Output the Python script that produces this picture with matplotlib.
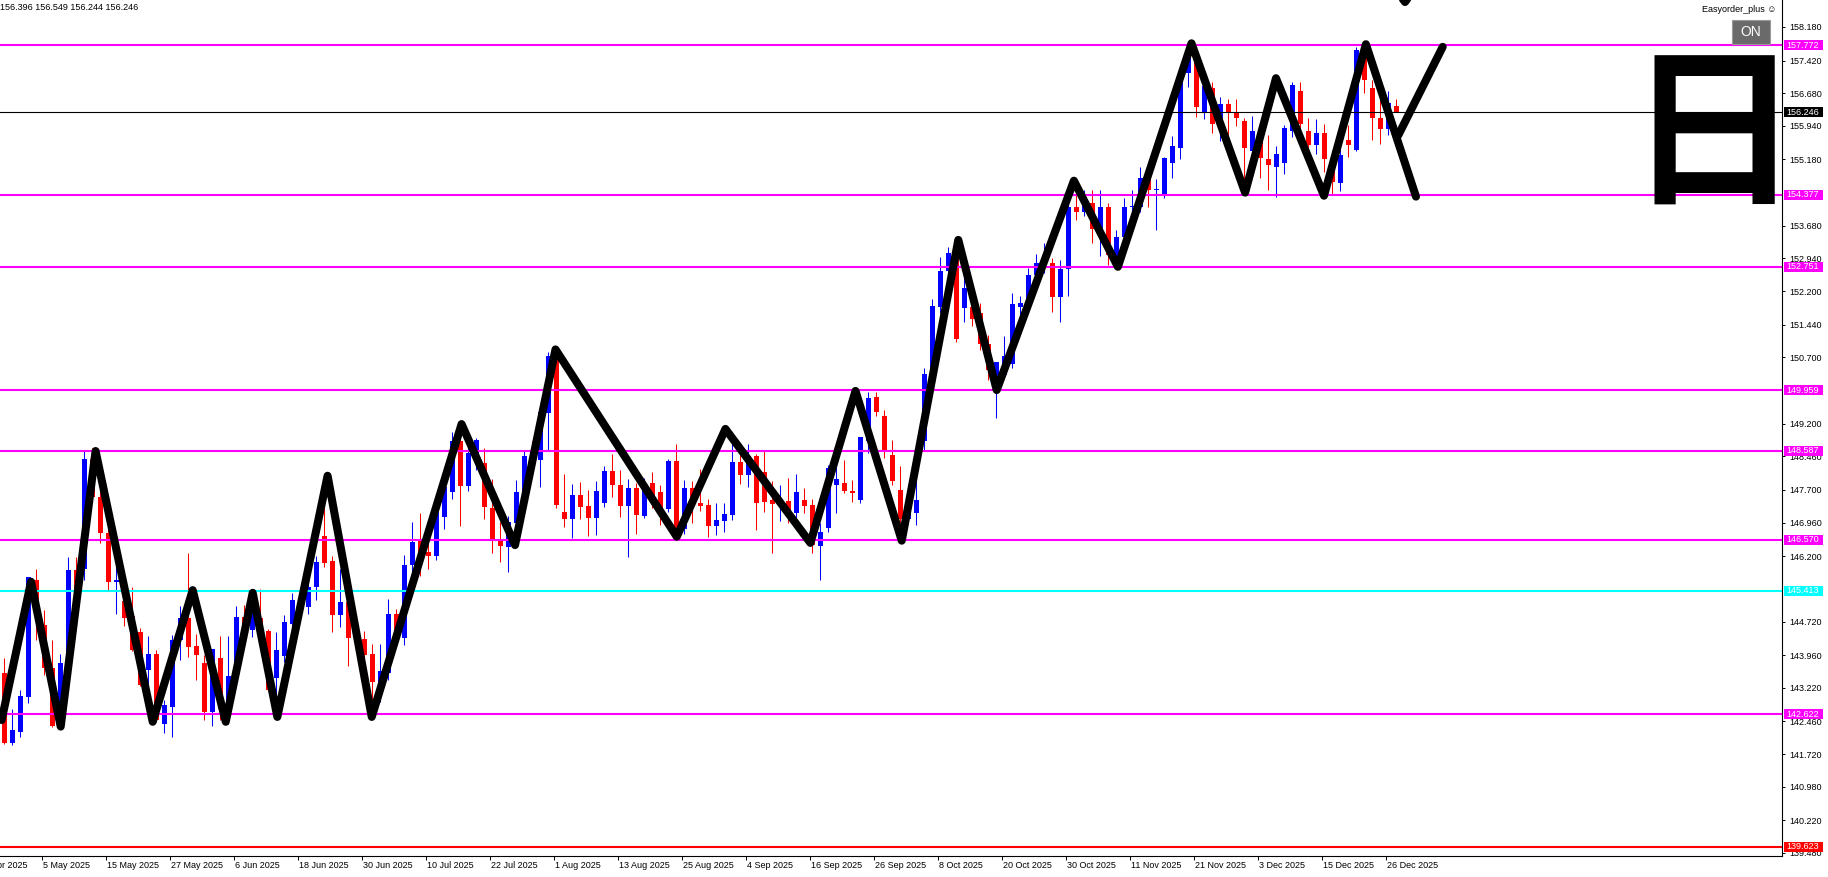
import matplotlib
matplotlib.use("Agg")
import matplotlib.pyplot as plt
import matplotlib.transforms as mtransforms
from matplotlib.patches import Rectangle
import numpy as np

plt.rcParams['font.family'] = ['Liberation Sans', 'DejaVu Sans']

# ---------------- data (daily candles, bar index 0 = 28 Apr 2025) ----------------
opens = [143.55, 141.96, 142.22, 143.02, 145.66, 144.64, 143.66, 142.38, 143.79, 145.89,
         145.90, 148.40, 147.55, 146.73, 145.62, 145.19, 144.84, 144.49, 143.62, 143.98,
         142.40, 142.79, 144.29, 144.79, 144.17, 143.77, 142.66, 143.90, 142.73, 143.49,
         144.83, 144.53, 144.81, 144.50, 143.45, 143.94, 144.66, 145.21, 145.05, 145.50,
         146.66, 146.10, 144.87, 145.17, 144.55, 144.32, 143.98, 143.36, 143.55, 144.89,
         144.34, 146.00, 146.57, 146.30, 146.20, 147.09, 147.65, 148.81, 147.79, 148.54,
         148.30, 147.28, 146.55, 146.41, 146.94, 147.64, 148.60, 148.38, 149.45, 150.72,
         147.21, 147.04, 147.58, 147.34, 147.07, 147.41, 148.13, 147.81, 147.34, 147.74,
         147.11, 147.85, 147.65, 147.27, 148.35, 146.81, 147.74, 147.40, 147.36, 146.88,
         147.00, 147.13, 148.33, 148.04, 148.47, 148.11, 147.47, 147.40, 147.44, 147.18,
         147.47, 147.36, 146.43, 146.83, 147.81, 147.85, 147.67, 147.47, 148.81, 149.80,
         149.37, 148.49, 147.70, 147.03, 147.17, 148.80, 150.32, 151.85, 152.65, 153.00,
         151.81, 151.83, 151.70, 151.00, 150.00, 150.30, 150.55, 151.83, 151.90, 152.56,
         152.84, 152.83, 152.07, 152.69, 154.10, 154.00, 154.20, 153.60, 154.10, 152.94,
         153.43, 154.10, 154.11, 154.73, 154.49, 154.41, 155.10, 155.43, 157.13, 157.50,
         156.23, 156.79, 156.00, 156.44, 156.23, 156.05, 155.38, 155.62, 155.18, 155.02,
         155.11, 155.83, 156.73, 155.83, 155.51, 155.77, 155.22, 154.65, 155.62, 155.39,
         157.58, 156.79, 156.13, 155.86, 156.396]
highs = [143.89, 142.75, 143.18, 145.73, 145.90, 144.98, 144.29, 143.98, 146.19, 146.19,
         148.60, 148.65, 147.75, 147.10, 145.96, 145.51, 145.51, 144.57, 144.39, 144.07,
         142.94, 144.41, 145.07, 146.26, 144.43, 143.96, 144.10, 144.39, 144.40, 145.07,
         145.10, 145.45, 145.45, 144.56, 144.49, 144.87, 145.37, 145.50, 145.80, 146.20,
         148.02, 146.20, 145.92, 145.40, 144.90, 144.50, 144.20, 144.20, 145.22, 145.00,
         146.23, 146.97, 147.18, 146.50, 147.43, 148.00, 149.02, 149.06, 148.83, 148.87,
         148.64, 147.95, 146.98, 147.10, 147.92, 148.57, 148.80, 149.51, 150.83, 150.85,
         148.07, 147.83, 147.87, 147.70, 147.90, 148.24, 148.51, 148.15, 147.94, 147.86,
         147.96, 148.10, 147.81, 148.41, 148.75, 147.92, 147.89, 148.17, 147.50, 147.40,
         147.41, 148.79, 148.50, 148.75, 148.51, 148.57, 147.89, 147.80, 147.98, 148.05,
         147.75, 147.50, 146.96, 148.26, 148.41, 148.38, 147.92, 148.90, 149.92, 149.92,
         149.51, 148.83, 148.23, 147.81, 147.90, 150.47, 152.02, 152.98, 153.20, 153.30,
         152.83, 152.07, 151.92, 151.20, 150.60, 151.18, 152.16, 152.10, 152.72, 153.04,
         153.30, 152.95, 152.90, 154.45, 154.70, 154.50, 154.50, 154.50, 154.20, 153.58,
         154.30, 154.50, 155.02, 154.85, 154.73, 155.24, 155.71, 157.17, 157.87, 157.60,
         157.00, 156.94, 156.60, 156.55, 156.54, 156.13, 156.17, 155.90, 155.74, 155.49,
         155.96, 156.93, 156.93, 156.13, 156.09, 155.98, 155.40, 155.96, 155.96, 157.73,
         157.77, 156.99, 156.73, 156.72, 156.549]
lows = [141.95, 141.92, 142.11, 142.87, 144.30, 143.51, 142.34, 142.34, 143.70, 145.00,
        145.66, 147.40, 146.50, 145.43, 144.90, 144.62, 144.06, 143.26, 143.30, 142.45,
        142.20, 142.10, 143.85, 143.92, 143.40, 142.50, 142.35, 142.50, 142.40, 143.40,
        144.30, 144.38, 144.30, 143.15, 142.72, 143.80, 144.30, 144.80, 144.90, 145.20,
        145.95, 144.49, 144.59, 143.72, 144.20, 143.80, 142.60, 142.90, 143.40, 144.30,
        144.18, 145.81, 145.74, 145.90, 146.11, 146.81, 147.50, 146.88, 147.67, 148.15,
        147.04, 146.28, 146.07, 145.83, 146.80, 147.50, 148.00, 147.77, 148.60, 147.28,
        146.85, 146.60, 147.04, 146.66, 146.68, 147.32, 147.55, 147.09, 146.19, 146.70,
        147.06, 147.30, 146.90, 147.20, 146.72, 146.70, 146.94, 147.22, 146.64, 146.68,
        146.75, 147.02, 147.83, 147.76, 146.79, 147.20, 146.28, 147.00, 146.96, 147.00,
        147.18, 146.26, 145.66, 146.75, 147.17, 147.64, 147.43, 147.40, 148.53, 149.37,
        148.43, 147.80, 146.94, 146.99, 146.90, 148.60, 150.20, 151.71, 152.40, 151.05,
        151.50, 151.40, 150.87, 150.19, 149.32, 150.20, 150.45, 151.50, 151.80, 152.40,
        152.60, 151.73, 151.51, 152.10, 153.80, 153.90, 153.30, 153.00, 152.79, 152.83,
        153.30, 153.80, 154.00, 154.11, 153.58, 154.30, 154.77, 155.18, 156.83, 156.15,
        156.10, 155.77, 155.60, 155.62, 155.94, 154.39, 155.20, 154.77, 154.49, 154.34,
        154.85, 155.70, 155.70, 155.30, 155.30, 154.90, 154.38, 154.47, 155.24, 155.38,
        156.68, 155.62, 155.52, 155.74, 156.244]
closes = [141.98, 142.26, 143.03, 145.72, 144.90, 143.66, 142.36, 143.79, 145.89, 145.40,
          148.40, 147.55, 146.72, 145.62, 145.66, 144.81, 144.07, 143.28, 143.98, 142.49,
          142.83, 144.30, 144.79, 144.15, 143.96, 142.66, 144.10, 142.73, 143.49, 144.83,
          144.55, 144.87, 144.53, 143.17, 144.07, 144.72, 145.21, 145.05, 145.50, 146.07,
          146.04, 144.87, 145.17, 144.34, 144.32, 143.96, 143.36, 143.61, 144.90, 144.45,
          146.00, 146.53, 146.28, 146.20, 147.21, 147.77, 148.81, 147.79, 148.54, 148.83,
          147.32, 146.58, 146.43, 146.98, 147.65, 148.47, 148.41, 149.47, 150.72, 147.36,
          147.04, 147.58, 147.32, 147.07, 147.67, 148.13, 147.80, 147.34, 147.74, 147.13,
          147.73, 147.51, 147.28, 148.35, 146.79, 147.74, 147.36, 147.34, 146.88, 147.02,
          147.15, 148.33, 148.04, 148.47, 147.40, 147.42, 147.38, 147.45, 147.17, 147.65,
          147.34, 146.45, 146.75, 148.19, 147.95, 147.67, 147.62, 148.89, 149.77, 149.47,
          148.59, 147.90, 147.03, 147.30, 147.47, 150.32, 151.86, 152.65, 153.06, 151.11,
          152.26, 151.58, 151.00, 150.41, 150.60, 150.73, 151.91, 151.92, 152.56, 152.84,
          152.90, 152.07, 152.69, 154.10, 154.00, 154.20, 153.60, 154.10, 153.02, 153.43,
          154.10, 154.11, 154.75, 154.50, 154.52, 155.21, 155.48, 157.13, 157.55, 156.36,
          156.84, 155.98, 156.44, 156.26, 156.11, 155.43, 155.83, 155.21, 155.06, 155.30,
          155.89, 156.87, 155.98, 155.51, 155.79, 155.18, 154.66, 155.28, 155.51, 157.67,
          156.99, 156.13, 155.86, 156.45, 156.246]

date_labels = ["23 Apr 2025", "5 May 2025", "15 May 2025", "27 May 2025", "6 Jun 2025",
               "18 Jun 2025", "30 Jun 2025", "10 Jul 2025", "22 Jul 2025", "1 Aug 2025",
               "13 Aug 2025", "25 Aug 2025", "4 Sep 2025", "16 Sep 2025", "26 Sep 2025",
               "8 Oct 2025", "20 Oct 2025", "30 Oct 2025", "11 Nov 2025", "21 Nov 2025",
               "3 Dec 2025", "15 Dec 2025", "26 Dec 2025"]
date_bars = [-3, 5, 13, 21, 29, 37, 45, 53, 61, 69, 77, 85, 93, 101, 109, 117, 125,
             133, 141, 149, 157, 165, 173]

# visible price scale labels (those fully covered by level boxes are omitted)
price_ticks = [158.18, 157.42, 156.68, 155.94, 155.18, 153.68, 152.94, 152.20,
               151.44, 150.70, 149.20, 148.46, 147.70, 146.96, 146.20,
               144.72, 143.96, 143.22, 142.46, 141.72, 140.98, 140.22, 139.48]

level_prices = [157.772, 154.377, 152.751, 149.959, 148.587, 146.570, 145.413, 142.622, 139.623]
level_colors = ['#ff00ff', '#ff00ff', '#ff00ff', '#ff00ff', '#ff00ff', '#ff00ff',
                '#00ffff', '#ff00ff', '#ff0000']
current_price = 156.246
header_ohlc = "156.396 156.549 156.244 156.246"

zz_bar = [-0.33, 3.34, 7.05, 11.41, 18.55, 23.55, 27.68, 31.05, 34.13, 40.41, 45.93,
          57.16, 63.84, 68.9, 84.06, 90.14, 100.76, 106.4, 112.18, 119.25, 124.05,
          133.7, 139.2, 148.4, 155.1, 158.96, 164.96, 170.2, 176.46]
zz_price = [142.49, 145.62, 142.34, 148.58, 142.45, 145.43, 142.45, 145.37, 142.56,
            148.02, 142.56, 149.19, 146.45, 150.88, 146.64, 149.08, 146.50, 149.94,
            146.55, 153.36, 149.96, 154.70, 152.75, 157.81, 154.43, 157.02, 154.36,
            157.79, 154.34]
proj_bar = [174.25, 179.8]
proj_price = [155.73, 157.73]
# a further projection leg leaving the top of the window
top_bar = [174.34, 175.09, 175.84]
top_price = [158.93, 158.745, 158.93]

# ---------------- layout ----------------
W, H, DPI = 1828, 877, 100
PLOT_R, PLOT_B = 1782, 856
X0, PX_PER_BAR = 4.3, 8.0
Y_TOP, Y_BOT = 158.791, 139.411

fig = plt.figure(figsize=(W / DPI, H / DPI), dpi=DPI, facecolor='white')
ax = fig.add_axes([0, (H - PLOT_B) / H, PLOT_R / W, PLOT_B / H])
ax.set_facecolor('white')

# candles
x = np.arange(len(opens))
o = np.array(opens); c = np.array(closes)
col = np.where(c >= o, '#0000ff', '#ff0000')
ax.vlines(x, lows, highs, colors=col, linewidth=0.75, zorder=2)
ax.bar(x, np.maximum(np.abs(c - o), 0.025), bottom=np.minimum(o, c), width=0.6,
       color=col, linewidth=0, zorder=3)

# horizontal levels
for p, cc in zip(level_prices, level_colors):
    ax.axhline(p, color=cc, linewidth=1.5, zorder=4)
ax.axhline(current_price, color='black', linewidth=0.8, zorder=4)

# zigzag
for bx, by in [(zz_bar, zz_price), (proj_bar, proj_price), (top_bar, top_price)]:
    ax.plot(bx, by, color='black', linewidth=5.8, solid_capstyle='round',
            solid_joinstyle='round', zorder=6)

# spines / axes
for s in ['left', 'top']:
    ax.spines[s].set_visible(False)
for s in ['right', 'bottom']:
    ax.spines[s].set_linewidth(0.8)
    ax.spines[s].set_color('black')

ax.yaxis.tick_right()
ax.set_yticks(price_ticks)
ax.set_yticklabels([f"{v:.3f}" for v in price_ticks])
ax.tick_params(axis='y', direction='out', length=2.5, width=0.7, pad=2.5,
               labelsize=6.5, colors='black')

ax.set_xticks([b - 0.35 for b in date_bars])
ax.set_xticklabels([])
ax.tick_params(axis='x', direction='out', length=3, width=0.7)

# limits after ticks (ticks would otherwise widen the view)
ax.set_xlim((0 - X0) / PX_PER_BAR, (PLOT_R - X0) / PX_PER_BAR)
ax.set_ylim(Y_BOT, Y_TOP)

tx = mtransforms.blended_transform_factory(ax.transData, fig.transFigure)
for b, lab in zip(date_bars, date_labels):
    ax.text(b - 0.35 + 0.2, 1 - 866 / H, lab, transform=tx, ha='left', va='center',
            fontsize=6.5, clip_on=False)

# level price boxes on the right axis
ty = mtransforms.blended_transform_factory(fig.transFigure, ax.transData)
px_per_unit = PLOT_B / (Y_TOP - Y_BOT)
bh = 10 / px_per_unit
for p, cc in list(zip(level_prices, level_colors)) + [(current_price, 'black')]:
    fig.add_artist(Rectangle((1784 / W, p - bh / 2), 39 / W, bh, transform=ty,
                             facecolor=cc, edgecolor='none', zorder=10, clip_on=False))
    fig.text(1786 / W, p, f"{p:.3f}", transform=ty, color='white', fontsize=6.5,
             ha='left', va='center', zorder=11)

# header and widgets
fig.text(0.5 / W, 1 - 7.5 / H, header_ohlc, fontsize=6.5, ha='left', va='center')
fig.text(1776 / W, 1 - 9 / H, "Easyorder_plus \u263a", fontsize=6.5, ha='right',
         va='center', family=['Liberation Sans', 'DejaVu Sans'])
fig.add_artist(Rectangle((1731.7 / W, 1 - 44.3 / H), 38.3 / W, 24.3 / H,
                         transform=fig.transFigure, facecolor='#6a6a6a',
                         edgecolor='#9a9a9a', linewidth=0.8, zorder=10))
fig.text(1750.8 / W, 1 - 32.2 / H, "ON", color='white', fontsize=10, ha='center',
         va='center', zorder=11)
fig.text(1713.7 / W, 1 - 141.5 / H, "\u65e5", fontsize=124, fontweight='bold',
         family=['Noto Sans CJK JP'], ha='center', va='center', zorder=9)

fig.savefig('out.png', dpi=DPI, facecolor='white')
